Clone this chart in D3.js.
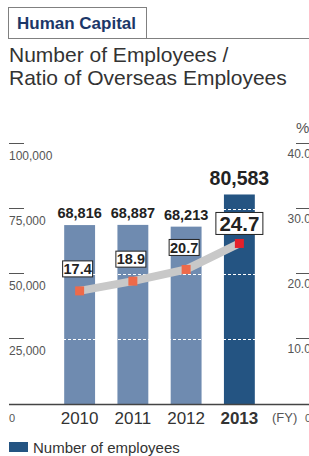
<!DOCTYPE html>
<html>
<head>
<meta charset="utf-8">
<script src="https://cdn.jsdelivr.net/npm/d3@7"></script>
<style>
  html, body { margin: 0; padding: 0; background: #fff; }
  svg { display: block; font-family: "Liberation Sans", Arial, Helvetica, sans-serif; }
</style>
</head>
<body>
<svg id="chart" width="309" height="456"></svg>
<script>
// ---- data ----
const years = ["2010", "2011", "2012", "2013"];
const employees = [68816, 68887, 68213, 80583];
const overseasRatio = [17.4, 18.9, 20.7, 24.7];
const leftTicks = [0, 25000, 50000, 75000, 100000];
const rightTicks = [0, 10, 20, 30, 40];
const gridValues = [25000, 50000, 75000];

const svg = d3.select("#chart");

// ---- header ----
svg.append("rect").attr("x", 8.5).attr("y", 7.5).attr("width", 138).attr("height", 31)
  .attr("fill", "#fff").attr("stroke", "#808080").attr("stroke-width", 1);
svg.append("line").attr("x1", 146.5).attr("x2", 309).attr("y1", 38.5).attr("y2", 38.5)
  .attr("stroke", "#808080").attr("stroke-width", 1);
svg.append("text").attr("x", 17).attr("y", 29).attr("font-size", 17).attr("font-weight", "bold")
  .attr("fill", "#1c3768").text("Human Capital");
svg.append("text").attr("x", 9).attr("y", 61.5).attr("font-size", 21).attr("fill", "#333")
  .text("Number of Employees /");
svg.append("text").attr("x", 9).attr("y", 84.5).attr("font-size", 21).attr("fill", "#333")
  .text("Ratio of Overseas Employees");

// ---- scales ----
const x = d3.scaleBand().domain(years).range([53, 266]).paddingInner(0.42).paddingOuter(0.21);
const y = d3.scaleLinear().domain([0, 100000]).range([404, 144]);
const yr = d3.scaleLinear().domain([0, 40]).range([404, 144]);

// ---- left axis ticks ----
const lt = svg.append("g");
leftTicks.forEach(t => {
  if (t > 0) {
    lt.append("line").attr("x1", 9).attr("x2", 24).attr("y1", y(t) - 0.5).attr("y2", y(t) - 0.5)
      .attr("stroke", "#555").attr("stroke-width", 1);
    lt.append("text").attr("x", 9).attr("y", y(t) + 16).attr("font-size", 12).attr("fill", "#555")
      .text(d3.format(",")(t));
  } else {
    lt.append("text").attr("x", 9).attr("y", 422).attr("font-size", 11).attr("fill", "#555").text("0");
  }
});

// ---- right axis ticks ----
const rt = svg.append("g");
rt.append("text").attr("x", 296).attr("y", 133).attr("font-size", 15).attr("fill", "#555").text("%");
rightTicks.forEach(t => {
  if (t > 0) {
    rt.append("line").attr("x1", 296).attr("x2", 309).attr("y1", yr(t) - 0.5).attr("y2", yr(t) - 0.5)
      .attr("stroke", "#555").attr("stroke-width", 1);
    rt.append("text").attr("x", 287.5).attr("y", yr(t) + 13.5).attr("font-size", 12).attr("fill", "#555")
      .text(d3.format(".1f")(t));
  } else {
    rt.append("text").attr("x", 305).attr("y", 422).attr("font-size", 11).attr("fill", "#555").text("0");
  }
});

// ---- bars ----
const barColor = (d, i) => i === years.length - 1 ? "#245482" : "#6f8bb0";
svg.append("g").selectAll("rect").data(employees).join("rect")
  .attr("x", (d, i) => x(years[i]))
  .attr("y", d => y(d))
  .attr("width", x.bandwidth())
  .attr("height", d => y(0) - y(d))
  .attr("fill", barColor);

// ---- dashed grid (visible on bars) ----
svg.append("g").selectAll("line").data(gridValues).join("line")
  .attr("x1", 53).attr("x2", 266)
  .attr("y1", d => y(d) + 0.5).attr("y2", d => y(d) + 0.5)
  .attr("stroke", "#fff").attr("stroke-width", 1).attr("stroke-dasharray", "3,2");

// ---- baseline ----
svg.append("line").attr("x1", 9).attr("x2", 309).attr("y1", 404.5).attr("y2", 404.5)
  .attr("stroke", "#444").attr("stroke-width", 1.3);

// ---- bar value labels ----
svg.append("g").selectAll("text").data(employees).join("text")
  .attr("x", (d, i) => x(years[i]) + x.bandwidth() / 2)
  .attr("y", (d, i) => y(d) - (i === years.length - 1 ? 9 : 7))
  .attr("text-anchor", "middle")
  .attr("font-weight", "bold")
  .attr("font-size", (d, i) => i === years.length - 1 ? 19.5 : 14.5)
  .attr("fill", "#222")
  .text(d => d3.format(",")(d));

// ---- ratio line ----
const cx = i => x(years[i]) + x.bandwidth() / 2;
const line = d3.line().x((d, i) => cx(i)).y(d => yr(d));
svg.append("path").datum(overseasRatio).attr("d", line)
  .attr("fill", "none").attr("stroke", "#c8c8c8").attr("stroke-width", 8);

svg.append("g").selectAll("rect").data(overseasRatio).join("rect")
  .attr("x", (d, i) => cx(i) - 4.5)
  .attr("y", d => yr(d) - 4.5)
  .attr("width", 9).attr("height", 9)
  .attr("fill", (d, i) => i === years.length - 1 ? "#e4202a" : "#ee6a4a");

// ---- ratio labels ----
const lg = svg.append("g");
overseasRatio.forEach((v, i) => {
  const last = i === years.length - 1;
  const fs = last ? 20.5 : 14.5;
  const w = last ? 47 : 30;
  const h = last ? 22 : 16;
  const cyy = yr(v) - (last ? 20 : 22);
  const cxx = cx(i) - (last ? 0 : 2);
  lg.append("rect").attr("x", cxx - w / 2).attr("y", cyy - h / 2).attr("width", w).attr("height", h)
    .attr("fill", "#fff").attr("stroke", "#222").attr("stroke-width", 1);
  lg.append("text").attr("x", cxx).attr("y", cyy + fs * 0.36).attr("text-anchor", "middle")
    .attr("font-size", fs).attr("font-weight", "bold").attr("fill", "#222")
    .text(d3.format(".1f")(v));
});

// ---- x labels ----
svg.append("g").selectAll("text").data(years).join("text")
  .attr("x", d => x(d) + x.bandwidth() / 2)
  .attr("y", 424)
  .attr("text-anchor", "middle")
  .attr("font-size", 17)
  .attr("font-weight", (d, i) => i === years.length - 1 ? "bold" : "normal")
  .attr("fill", "#333")
  .text(d => d);
svg.append("text").attr("x", 272).attr("y", 422).attr("font-size", 13).attr("fill", "#555").text("(FY)");

// ---- legend ----
svg.append("rect").attr("x", 9).attr("y", 442).attr("width", 19).attr("height", 10).attr("fill", "#245482");
svg.append("text").attr("x", 33).attr("y", 452.5).attr("font-size", 15).attr("fill", "#333")
  .text("Number of employees");
</script>
</body>
</html>
